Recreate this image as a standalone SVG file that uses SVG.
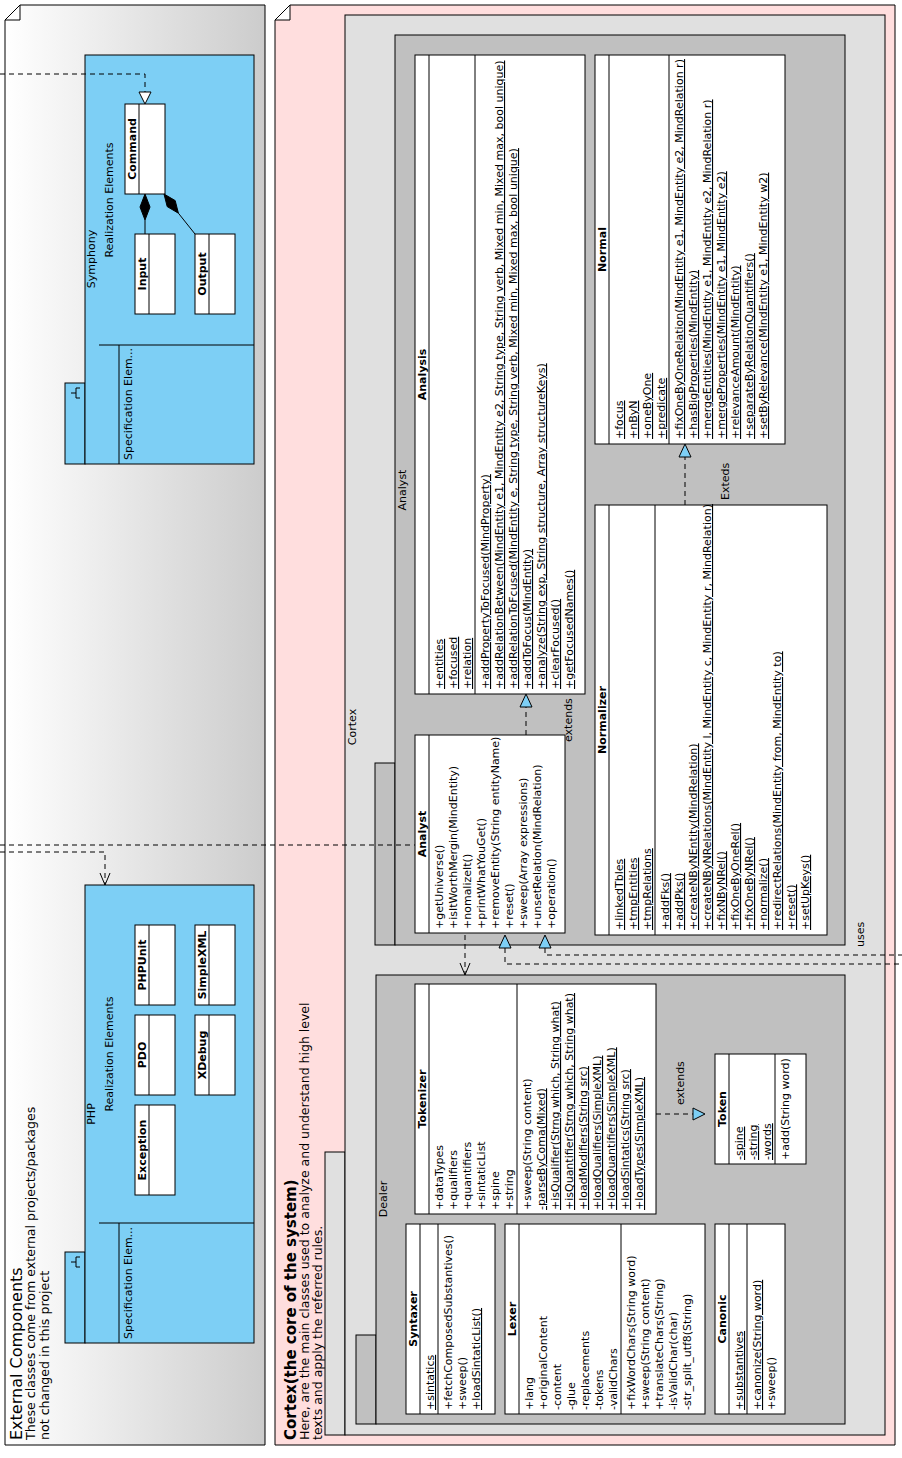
<svg xmlns="http://www.w3.org/2000/svg" width="902" height="1458" viewBox="0 0 902 1458">
<defs>
<linearGradient id="gr" x1="0" y1="0" x2="1" y2="0">
<stop offset="0" stop-color="#ffffff"/>
<stop offset="1" stop-color="#cccccc"/>
</linearGradient>
</defs>
<style>
text{font-family:"DejaVu Sans","Liberation Sans",sans-serif;font-size:11px;fill:#000}
.nm{font-weight:bold;text-anchor:middle}
.u{text-decoration:underline}
.mid{text-anchor:middle}
.box{fill:#fff;stroke:#000;stroke-width:1}
.ln{fill:none;stroke:#000;stroke-width:1}
.blue{fill:#7dcff5;stroke:#000;stroke-width:1}
.g1{fill:#e0e0e0;stroke:#000;stroke-width:1}
.g2{fill:#c0c0c0;stroke:#000;stroke-width:1}
.dash{fill:none;stroke:#000;stroke-width:1;stroke-dasharray:5,4}
.tri{fill:#7dcff5;stroke:#000;stroke-width:1}
.hol{fill:#fff;stroke:#000;stroke-width:1}
</style>

<!-- External components note -->
<g id="external">
<path d="M5,20 L20,5 L265,5 L265,1445 L5,1445 Z" fill="url(#gr)" stroke="#000"/>
<path d="M5,20 L20,20 L20,5 Z" class="box"/>
<text transform="translate(22,1440) rotate(-90)" style="font-size:16px">External Components</text>
<text transform="translate(35,1440) rotate(-90)" style="font-size:12.6px">These classes come from external projects/packages</text>
<text transform="translate(49,1440) rotate(-90)" style="font-size:12.6px">not changed in this project</text>
</g>

<g id="symphony">
<rect class="blue" x="65" y="383" width="20" height="81"/>
<rect class="blue" x="85" y="55" width="169" height="409"/>
<path class="ln" d="M99,345 H254 M119,345 V464"/>
<path class="ln" d="M71,393 H76 M76,388 V398 M76,388 H80 M76,398 H80"/>
<text class="mid" transform="translate(95,259) rotate(-90)">Symphony</text>
<text class="mid" transform="translate(113,200) rotate(-90)">Realization Elements</text>
<text transform="translate(132,460) rotate(-90)">Specification Elem...</text>
</g>
<g id="command" transform="translate(125,194) rotate(-90)">
<rect class="box" width="90" height="40"/><path class="ln" d="M0,14H90"/>
<text class="nm" x="45" y="11">Command</text>
</g>
<g id="input" transform="translate(135,314) rotate(-90)">
<rect class="box" width="80" height="40"/><path class="ln" d="M0,14H80"/>
<text class="nm" x="40" y="11">Input</text>
</g>
<g id="output" transform="translate(195,314) rotate(-90)">
<rect class="box" width="80" height="40"/><path class="ln" d="M0,14H80"/>
<text class="nm" x="40" y="11">Output</text>
</g>

<g id="php">
<rect class="blue" x="65" y="1252" width="20" height="91"/>
<rect class="blue" x="85" y="885" width="169" height="458"/>
<path class="ln" d="M99,1223 H254 M119,1223 V1343"/>
<path class="ln" d="M71,1262 H76 M76,1257 V1267 M76,1257 H80 M76,1267 H80"/>
<text class="mid" transform="translate(95,1114) rotate(-90)">PHP</text>
<text class="mid" transform="translate(113,1054) rotate(-90)">Realization Elements</text>
<text transform="translate(132,1339) rotate(-90)">Specification Elem...</text>
</g>
<g id="exception" transform="translate(135,1195) rotate(-90)">
<rect class="box" width="90" height="40"/><path class="ln" d="M0,14H90"/>
<text class="nm" x="45" y="11">Exception</text>
</g>
<g id="pdo" transform="translate(135,1095) rotate(-90)">
<rect class="box" width="80" height="40"/><path class="ln" d="M0,14H80"/>
<text class="nm" x="40" y="11">PDO</text>
</g>
<g id="phpunit" transform="translate(135,1005) rotate(-90)">
<rect class="box" width="80" height="40"/><path class="ln" d="M0,14H80"/>
<text class="nm" x="40" y="11">PHPUnit</text>
</g>
<g id="xdebug" transform="translate(195,1095) rotate(-90)">
<rect class="box" width="80" height="40"/><path class="ln" d="M0,14H80"/>
<text class="nm" x="40" y="11">XDebug</text>
</g>
<g id="simplexml" transform="translate(195,1005) rotate(-90)">
<rect class="box" width="80" height="40"/><path class="ln" d="M0,14H80"/>
<text class="nm" x="40" y="11">SimpleXML</text>
</g>

<!-- Cortex note -->
<g id="cortex-note">
<path d="M275,20 L290,5 L895,5 L895,1445 L275,1445 Z" fill="#ffdede" stroke="#000"/>
<path d="M275,20 L290,20 L290,5 Z" class="box"/>
<text transform="translate(296,1440) rotate(-90)" style="font-size:15px;font-weight:bold">Cortex(the core of the system)</text>
<text transform="translate(309,1440) rotate(-90)" style="font-size:12.5px">Here, are the main classes used to analyze and understand high level</text>
<text transform="translate(322,1440) rotate(-90)" style="font-size:12.5px">texts and apply the referred rules.</text>
</g>

<g id="cortex">
<rect class="g1" x="325" y="1152" width="20" height="283"/>
<rect class="g1" x="345" y="15" width="540" height="1420"/>
<text class="mid" transform="translate(356,727) rotate(-90)">Cortex</text>
</g>

<g id="analyst-pkg">
<rect class="g2" x="375" y="763" width="20" height="182"/>
<rect class="g2" x="395" y="35" width="450" height="910"/>
<text class="mid" transform="translate(406,490) rotate(-90)">Analyst</text>
</g>

<g id="dealer-pkg">
<rect class="g2" x="356" y="1335" width="20" height="89"/>
<rect class="g2" x="376" y="975" width="469" height="449"/>
<text class="mid" transform="translate(387,1199) rotate(-90)">Dealer</text>
</g>

<g id="analysis" transform="translate(415,694) rotate(-90)">
<rect class="box" width="639" height="170"/>
<path class="ln" d="M0,14H639M0,60H639"/>
<text class="nm" x="319.5" y="11">Analysis</text>
<text class="u" x="5" y="28">+entities</text>
<text class="u" x="5" y="42">+focused</text>
<text class="u" x="5" y="56">+relation</text>
<text class="u" x="5" y="74">+addPropertyToFocused(MindProperty)</text>
<text class="u" x="5" y="88">+addRelationBetween(MindEntity e1, MindEntity e2, String type, String verb, Mixed min, Mixed max, bool unique)</text>
<text class="u" x="5" y="102">+addRelationToFcused(MindEntity e, String type, String verb, Mixed min, Mixed max, bool unique)</text>
<text class="u" x="5" y="116">+addToFocus(MindEntity)</text>
<text class="u" x="5" y="130">+analyze(String exp, String structure, Array structureKeys)</text>
<text class="u" x="5" y="144">+clearFocused()</text>
<text class="u" x="5" y="158">+getFocusedNames()</text>
</g>

<g id="normal" transform="translate(595,444) rotate(-90)">
<rect class="box" width="389" height="190"/>
<path class="ln" d="M0,14H389M0,74H389"/>
<text class="nm" x="194.5" y="11">Normal</text>
<text class="u" x="5" y="28">+focus</text>
<text class="u" x="5" y="42">+nByN</text>
<text class="u" x="5" y="56">+oneByOne</text>
<text class="u" x="5" y="70">+predicate</text>
<text class="u" x="5" y="88">+fixOneByOneRelation(MindEntity e1, MindEntity e2, MindRelation r)</text>
<text class="u" x="5" y="102">+hasBigProperties(MindEntity)</text>
<text class="u" x="5" y="116">+mergeEntities(MindEntity e1, MindEntity e2, MindRelation r)</text>
<text class="u" x="5" y="130">+mergeProperties(MindEntity e1, MindEntity e2)</text>
<text class="u" x="5" y="144">+relevanceAmount(MindEntity)</text>
<text class="u" x="5" y="158">+separateByRelationQuantifiers()</text>
<text class="u" x="5" y="172">+setByRelevance(MindEntity e1, MindEntity w2)</text>
</g>

<g id="normalizer" transform="translate(595,935) rotate(-90)">
<rect class="box" width="430" height="232"/>
<path class="ln" d="M0,14H430M0,60H430"/>
<text class="nm" x="215" y="11">Normalizer</text>
<text class="u" x="5" y="28">+linkedTbles</text>
<text class="u" x="5" y="42">+tmpEntities</text>
<text class="u" x="5" y="56">+tmpRelations</text>
<text class="u" x="5" y="74">+addFks()</text>
<text class="u" x="5" y="88">+addPks()</text>
<text class="u" x="5" y="102">+createNByNEntity(MindRelation)</text>
<text class="u" x="5" y="116">+createNByNRelations(MindEntity l, MindEntity c, MindEntity r, MindRelation)</text>
<text class="u" x="5" y="130">+fixNByNRel()</text>
<text class="u" x="5" y="144">+fixOneByOneRel()</text>
<text class="u" x="5" y="158">+fixOneByNRel()</text>
<text class="u" x="5" y="172">+normalize()</text>
<text class="u" x="5" y="186">+redirectRelations(MindEntity from, MindEntity to)</text>
<text class="u" x="5" y="200">+reset()</text>
<text class="u" x="5" y="214">+setUpKeys()</text>
</g>

<g id="analyst" transform="translate(415,933) rotate(-90)">
<rect class="box" width="198" height="150"/>
<path class="ln" d="M0,14H198"/>
<text class="nm" x="99" y="11">Analyst</text>
<text x="4" y="28">+getUniverse()</text>
<text x="4" y="42">+isItWorthMergin(MindEntity)</text>
<text x="4" y="56">+nomalizeIt()</text>
<text x="4" y="70">+printWhatYouGet()</text>
<text x="4" y="84">+removeEntity(String entityName)</text>
<text x="4" y="98">+reset()</text>
<text x="4" y="112">+sweep(Array expressions)</text>
<text x="4" y="126">+unsetRelation(MindRelation)</text>
<text x="4" y="140">+operation()</text>
</g>

<g id="tokenizer" transform="translate(415,1214) rotate(-90)">
<rect class="box" width="230" height="241"/>
<path class="ln" d="M0,14H230M0,102H230"/>
<text class="nm" x="115" y="11">Tokenizer</text>
<text x="4" y="28">+dataTypes</text>
<text x="4" y="42">+qualifiers</text>
<text x="4" y="56">+quantifiers</text>
<text x="4" y="70">+sintaticList</text>
<text x="4" y="84">+spine</text>
<text x="4" y="98">+string</text>
<text x="4" y="116">+sweep(String content)</text>
<text class="u" x="4" y="130">-parseByComa(Mixed)</text>
<text class="u" x="4" y="144">+isQualifier(Strng which, String what)</text>
<text class="u" x="4" y="158">+isQuantifier(Strng which, String what)</text>
<text class="u" x="4" y="172">+loadModifiers(String src)</text>
<text class="u" x="4" y="186">+loadQualifiers(SimpleXML)</text>
<text class="u" x="4" y="200">+loadQuantifiers(SimpleXML)</text>
<text class="u" x="4" y="214">+loadSintatics(String src)</text>
<text class="u" x="4" y="228">+loadTypes(SimpleXML)</text>
</g>

<g id="token" transform="translate(715,1164) rotate(-90)">
<rect class="box" width="110" height="91"/>
<path class="ln" d="M0,14H110M0,60H110"/>
<text class="nm" x="55" y="11">Token</text>
<text class="u" x="4" y="28">-spine</text>
<text class="u" x="4" y="42">-string</text>
<text class="u" x="4" y="56">-words</text>
<text x="4" y="74">+add(String word)</text>
</g>

<g id="syntaxer" transform="translate(406,1414) rotate(-90)">
<rect class="box" width="190" height="89"/>
<path class="ln" d="M0,14H190M0,32H190"/>
<text class="nm" x="95" y="11">Syntaxer</text>
<text class="u" x="4" y="28">+sintatics</text>
<text x="4" y="46">+fetchComposedSubstantives()</text>
<text x="4" y="60">+sweep()</text>
<text class="u" x="4" y="74">+loadSintaticList()</text>
</g>

<g id="lexer" transform="translate(505,1414) rotate(-90)">
<rect class="box" width="190" height="200"/>
<path class="ln" d="M0,14H190M0,116H190"/>
<text class="nm" x="95" y="11">Lexer</text>
<text x="4" y="28">+lang</text>
<text x="4" y="42">+originalContent</text>
<text x="4" y="56">-content</text>
<text x="4" y="70">-glue</text>
<text x="4" y="84">-replacements</text>
<text x="4" y="98">-tokens</text>
<text x="4" y="112">-validChars</text>
<text x="4" y="130">+fixWordChars(String word)</text>
<text x="4" y="144">+sweep(String content)</text>
<text x="4" y="158">+translateChars(String)</text>
<text x="4" y="172">-isValidChar(char)</text>
<text x="4" y="186">-str_split_utf8(String)</text>
</g>

<g id="canonic" transform="translate(715,1414) rotate(-90)">
<rect class="box" width="190" height="70"/>
<path class="ln" d="M0,14H190M0,32H190"/>
<text class="nm" x="95" y="11">Canonic</text>
<text class="u" x="4" y="28">+substantives</text>
<text class="u" x="4" y="46">+canonize(String word)</text>
<text x="4" y="60">+sweep()</text>
</g>

<g id="connectors">
<!-- into Command -->
<path class="dash" d="M0,74 H145 V92"/>
<path class="hol" d="M139,92 L151,92 L145,104 Z"/>
<!-- compositions -->
<path d="M145,194 L150,207 L145,220 L140,207 Z" fill="#000" stroke="#000"/>
<path class="ln" d="M145,220 V234"/>
<path d="M164,194 L175.2,200.6 L178.4,213.2 L167.2,206.6 Z" fill="#000" stroke="#000"/>
<path class="ln" d="M178.4,213.2 L195,234"/>
<!-- long dependencies from the left -->
<path class="dash" d="M0,845 H415"/>
<path class="dash" d="M0,852 H105 V885"/>
<path class="ln" d="M100,873 L105,885 L110,873"/>
<!-- Analyst extends Analysis -->
<path class="dash" d="M526,735 V707"/>
<path class="tri" d="M520,707 L532,707 L526,694 Z"/>
<text transform="translate(572,742) rotate(-90)">extends</text>
<!-- Normalizer extends Normal -->
<path class="dash" d="M685,505 V457"/>
<path class="tri" d="M679,457 L691,457 L685,444 Z"/>
<text transform="translate(729,500) rotate(-90)">Exteds</text>
<!-- Analyst to Dealer -->
<path class="dash" d="M465,935 V975"/>
<path class="ln" d="M460,963 L465,975 L470,963"/>
<!-- Tokenizer extends Token -->
<path class="dash" d="M656,1114 H693"/>
<path class="tri" d="M693,1108 L693,1120 L705,1114 Z"/>
<text transform="translate(684,1105) rotate(-90)">extends</text>
<!-- realizations from right -->
<path class="dash" d="M505,948 V964 H902"/>
<path class="tri" d="M499,948 L511,948 L505,935 Z"/>
<path class="dash" d="M545,948 V955 H902"/>
<path class="tri" d="M539,948 L551,948 L545,935 Z"/>
<text transform="translate(864,947) rotate(-90)">uses</text>
</g>
</svg>
